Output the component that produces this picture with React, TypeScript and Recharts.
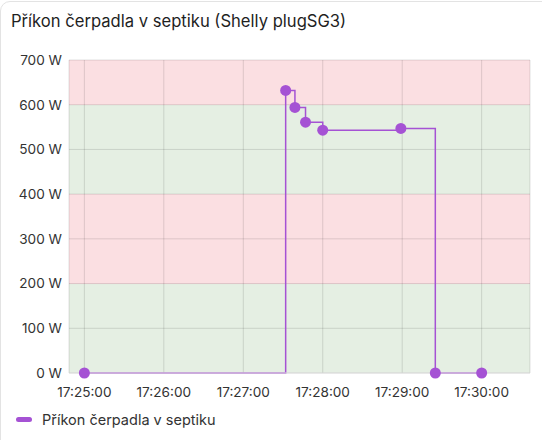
import React from "react";
import { LineChart, Line, XAxis, YAxis, CartesianGrid } from "recharts";

const title = "Příkon čerpadla v septiku (Shelly plugSG3)";
const seriesName = "Příkon čerpadla v septiku";
const times = ["17:25:00", "17:27:32", "17:27:39", "17:27:47", "17:28:00", "17:28:59", "17:29:25", "17:30:00"];
const watts = [0, 632, 594, 561, 543, 547, 0, 0];
const xTicks = ["17:25:00", "17:26:00", "17:27:00", "17:28:00", "17:29:00", "17:30:00"];
const yTicks = [0, 100, 200, 300, 400, 500, 600, 700];
const xDomain = ["17:24:48.4", "17:30:36.5"];
// band kind for each 100 W stripe, from top (600-700) to bottom (0-100)
const stripeKinds = ["bad", "ok", "ok", "bad", "bad", "ok", "ok"];

const BASE = 17 * 3600 + 25 * 60;
const toSec = (t: string) => {
  const [h, m, s] = t.split(":").map(Number);
  return h * 3600 + m * 60 + s - BASE;
};
const pad = (n: number) => String(n).padStart(2, "0");
const fmt = (v: number) => {
  const tot = Math.round(v + BASE);
  return `${pad(Math.floor(tot / 3600))}:${pad(Math.floor((tot % 3600) / 60))}:${pad(tot % 60)}`;
};

const data = times.map((t, i) => ({ x: toSec(t), w: watts[i] }));
const COLOR = "#a552d4";
const FONT = "Inter, 'Noto Sans', sans-serif";
const fills = stripeKinds.map((k) => (k === "ok" ? "#e5efe3" : "#fbdfe2"));

export default function App() {
  return (
    <div
      style={{
        position: "absolute",
        left: 0,
        top: 0,
        width: 542,
        height: 440,
        background: "#fff",
        fontFamily: FONT,
        overflow: "hidden",
      }}
    >
      <div
        style={{
          position: "absolute",
          left: 0,
          top: 1,
          width: 580,
          height: 470,
          border: "1px solid #e3e3e3",
          borderRadius: 10,
          boxSizing: "border-box",
        }}
      />
      <div
        style={{
          position: "absolute",
          left: 11,
          top: 11,
          fontSize: 16.6,
          color: "#1f1f1f",
          whiteSpace: "nowrap",
        }}
      >
        {title}
      </div>
      <div style={{ position: "absolute", left: 0, top: 0 }}>
        <LineChart
          width={542}
          height={440}
          data={data}
          margin={{ top: 60, right: 12, bottom: 37, left: 0 }}
        >
          <CartesianGrid
            stroke="rgba(0,0,0,0.12)"
            horizontalFill={fills}
            fillOpacity={1}
          />
          <XAxis
            dataKey="x"
            type="number"
            domain={[toSec(xDomain[0]), toSec(xDomain[1])]}
            ticks={xTicks.map(toSec)}
            tickFormatter={fmt}
            axisLine={{ stroke: "#e0e0e0" }}
            tickLine={false}
            tickSize={0}
            tickMargin={14}
            height={30}
            tick={{ fill: "#333", fontSize: 13.6, fontFamily: FONT }}
            allowDataOverflow
          />
          <YAxis
            type="number"
            domain={[0, 700]}
            ticks={yTicks}
            tickFormatter={(v: number) => `${v} W`}
            axisLine={false}
            tickLine={false}
            tickSize={0}
            tickMargin={7}
            width={69}
            tick={{ fill: "#333", fontSize: 13.6, fontFamily: FONT }}
          />
          <Line
            type="stepAfter"
            dataKey="w"
            stroke={COLOR}
            strokeWidth={1.5}
            dot={{ r: 5.5, fill: COLOR, stroke: COLOR, strokeWidth: 0 }}
            activeDot={false}
            isAnimationActive={false}
          />
        </LineChart>
      </div>
      <div
        style={{
          position: "absolute",
          left: 16,
          top: 411,
          display: "flex",
          alignItems: "center",
          fontSize: 14.5,
          color: "#333",
          whiteSpace: "nowrap",
        }}
      >
        <span
          style={{
            display: "inline-block",
            width: 16,
            height: 5,
            borderRadius: 3,
            background: COLOR,
            marginRight: 10,
          }}
        />
        {seriesName}
      </div>
    </div>
  );
}
